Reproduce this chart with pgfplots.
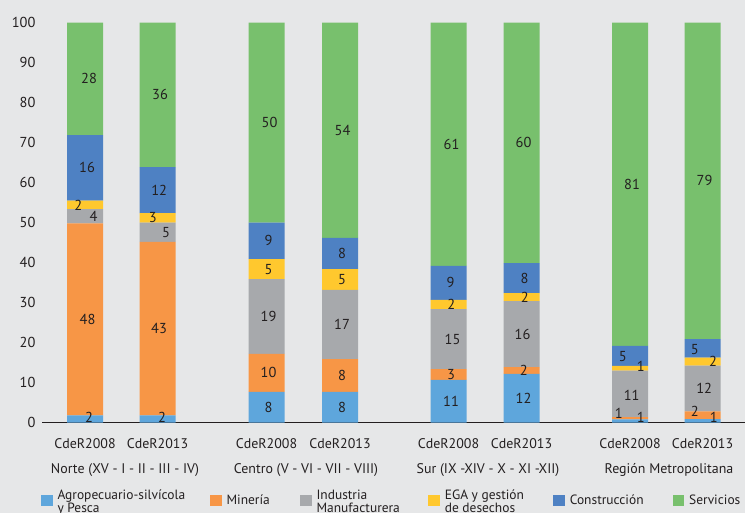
\documentclass[border=0pt]{standalone}
\usepackage{pgfplots}
\pgfplotsset{compat=1.18}
\usepackage{pgfplotstable}
\usepackage{fontspec}
\setmainfont{PT Sans}

\definecolor{bgc}{HTML}{E6E7E8}
\definecolor{txt}{HTML}{231F20}
\definecolor{cagro}{HTML}{5EA6DC}
\definecolor{cmin}{HTML}{F79646}
\definecolor{cind}{HTML}{A7A9AC}
\definecolor{cega}{HTML}{FFC82E}
\definecolor{ccon}{HTML}{4E81C3}
\definecolor{cserv}{HTML}{78C06D}

% shares by bar (percent), x = bar centre
\pgfplotstableread{
x     agro  min   ind   ega  con   serv
43    1.8   48.0  3.6   2.1  16.4  28.1
115.5 1.8   43.4  4.8   2.4  11.5  36.1
224.5 7.7   9.5   18.7  5.0  9.1   50.0
298   7.7   8.2   17.3  5.2  7.8   53.8
406.5 10.7  2.7   15.0  2.3  8.5   60.8
479.5 12.2  1.7   16.5  2.0  7.5   60.1
588   0.8   0.6   11.6  1.2  5.0   80.8
660.5 0.9   1.95  11.4  2.0  4.65  79.1
}\bars

% rounded labels and where they sit
\pgfplotstableread{
x     y      lab
47    1.3    2
45.5  25.8   48
51.5  51.6   4
36.3  54.45  2
45    63.7   16
47    85.95  28
120   1.3    2
117   23.5   43
124   47.6   5
110.7 51.2   3
117.2 58.15  12
118   81.95  36
226.5 3.85   8
226.5 12.45  10
226.5 26.55  19
226.5 38.4   5
226.5 45.45  9
227.5 75     50
300   3.85   8
300   11.8   8
300   24.55  17
300   35.8   5
300   42.3   8
300.5 73.1   54
409   5.35   11
409   12.05  3
410.5 20.9   15
409.3 29.55  2
408.5 34.95  9
409.5 69.6   61
481.5 6.1    12
481.7 13.05  2
480.5 22.15  16
482.8 31.4   2
482.5 36.15  8
481.5 69.95  60
598.8 1.4    1
576.7 2.4    1
589.7 6.95   11
598.8 14.0   1
580.8 16.6   5
590   59.65  81
671.8 1.4    1
652.7 2.75   2
662.2 8.55   12
671   15.25  2
652.7 18.2   5
662.5 60.45  79
}\labs

\newcommand{\two}[2]{\raisebox{4bp}{\begin{tabular}{@{}l@{}}#1\\#2\end{tabular}}}

\begin{document}
\begin{tikzpicture}
\fill[bgc] (0,0) rectangle (745bp,513bp);
\begin{axis}[
  at={(42bp,90.3bp)}, anchor=south west,
  scale only axis, width=703bp, height=400bp,
  xmin=0, xmax=703, ymin=0, ymax=100,
  ybar stacked, bar width=36,
  axis x line*=bottom, axis y line*=left,
  y axis line style={draw=none},
  x axis line style={draw=txt, line width=1.2bp, -},
  major tick length=0pt,
  /pgf/number format/assume math mode=true,
  ytick={0,10,...,100},
  yticklabel style={font=\fontsize{14.5}{16}\selectfont, color=txt, xshift=-3bp},
  xtick={43,115.5,224.5,298,406.5,479.5,588,660.5},
  xticklabels={CdeR2008,CdeR2013,CdeR2008,CdeR2013,CdeR2008,CdeR2013,CdeR2008,CdeR2013},
  xticklabel style={font=\fontsize{14}{16}\selectfont, color=txt, yshift=-12.5bp},
  extra x ticks={83,264,446,627},
  extra x tick labels={Norte (XV - I - II - III - IV),Centro (V - VI - VII - VIII),Sur (IX -XIV - X - XI -XII),Región Metropolitana},
  extra x tick style={xticklabel style={yshift=-24.5bp}},
  legend columns=6,
  legend cell align=left,
  legend style={at={(-0.0014,-0.195)}, anchor=west, draw=none, fill=none,
    inner sep=0pt, outer sep=0pt,
    font=\fontsize{13.5}{12}\selectfont,
    nodes={inner sep=0pt, outer sep=0pt, color=txt},
    /tikz/every odd column/.append style={column sep=5bp}},
  sq/.style={legend image code/.code={\fill[##1] (0bp,-5.75bp) rectangle (11.5bp,5.75bp);}},
]
\addplot[fill=cagro, draw=none, sq] table[x=x, y=agro]{\bars};
\addlegendentry{\makebox[152.5bp][l]{\two{Agropecuario-silvícola}{y Pesca}}}
\addplot[fill=cmin, draw=none, sq] table[x=x, y=min]{\bars};
\addlegendentry{\makebox[73.5bp][l]{Minería}}
\addplot[fill=cind, draw=none, sq] table[x=x, y=ind]{\bars};
\addlegendentry{\makebox[111.8bp][l]{\two{Industria}{Manufacturera}}}
\addplot[fill=cega, draw=none, sq] table[x=x, y=ega]{\bars};
\addlegendentry{\makebox[108.5bp][l]{\two{EGA y gestión}{de desechos}}}
\addplot[fill=ccon, draw=none, sq] table[x=x, y=con]{\bars};
\addlegendentry{\makebox[102.9bp][l]{Construcción}}
\addplot[fill=cserv, draw=none, sq] table[x=x, y=serv]{\bars};
\addlegendentry{Servicios}
\end{axis}
\begin{axis}[
  at={(42bp,90.3bp)}, anchor=south west,
  scale only axis, width=703bp, height=400bp,
  xmin=0, xmax=703, ymin=0, ymax=100,
  hide axis, clip=false,
]
\addplot[draw=none, mark=none, nodes near coords, point meta=explicit symbolic,
  nodes near coords align={center},
  every node near coord/.append style={font=\fontsize{14.5}{16}\selectfont, color=txt, inner sep=0pt}]
  table[x=x, y=y, meta=lab]{\labs};
\end{axis}
\pgfresetboundingbox
\path (0,0) rectangle (745bp,513bp);
\end{tikzpicture}
\end{document}
